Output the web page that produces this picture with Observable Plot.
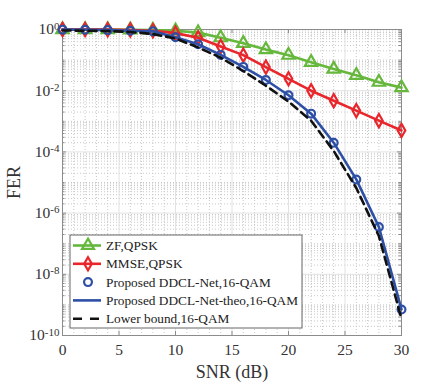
<!DOCTYPE html>
<html><head><meta charset="utf-8">
<script src="https://cdn.jsdelivr.net/npm/d3@7"></script>
<script src="https://cdn.jsdelivr.net/npm/@observablehq/plot@0.6"></script>
<style>
body{margin:0;background:#fff}
#chart{width:443px;height:388px}
</style>
</head><body><div id="chart"></div>
<script>
// ---- data ----
const snr = [0, 2, 4, 6, 8, 10, 12, 14, 16, 18, 20, 22, 24, 26, 28, 30];
const zfQpsk = [1, 1, 0.99, 0.98, 0.955, 0.91, 0.79, 0.54, 0.355, 0.22, 0.145, 0.085, 0.051, 0.032, 0.019, 0.0126];
const mmseQpsk = [1, 0.995, 0.99, 0.965, 0.91, 0.76, 0.54, 0.28, 0.145, 0.059, 0.0245, 0.01, 0.0047, 0.00224, 0.00105, 0.0005];
const ddclSim = [0.99, 0.98, 0.955, 0.91, 0.87, 0.56, 0.33, 0.148, 0.060, 0.0224, 0.0071, 0.00178, 2.0e-4, 1.26e-5, 3.5e-7, 7.1e-10];
const ddclTheo = [0.99, 0.98, 0.955, 0.91, 0.87, 0.56, 0.33, 0.148, 0.060, 0.0224, 0.0071, 0.00178, 2.0e-4, 1.26e-5, 3.5e-7, 7.1e-10];
const lowerBound = [0.93, 0.91, 0.89, 0.83, 0.71, 0.51, 0.26, 0.12, 0.044, 0.0145, 0.0044, 0.00105, 1.07e-4, 6.6e-6, 1.78e-7, 3.5e-10];
const seriesNames = ["ZF,QPSK", "MMSE,QPSK", "Proposed DDCL-Net,16-QAM", "Proposed DDCL-Net-theo,16-QAM", "Lower bound,16-QAM"];
const xTicks = [0, 5, 10, 15, 20, 25, 30];
const yTickExps = [0, -2, -4, -6, -8, -10];

// ---- derived ----
const GREEN = "#66b83c", RED = "#e8262b", BLUE = "#2d4fa6", BLACK = "#111";
const FONT = "'Liberation Serif','Times New Roman',serif";
const W = 443, H = 388, mL = 62, mR = 42, mT = 29, mB = 53;
const innerW = W - mL - mR, innerH = H - mT - mB;
const yMajor = yTickExps.map(e => Math.pow(10, e));
const yMinor = [];
for (let e = -10; e < 0; e++) for (let k = 1; k < 10; k++) {
  if (k === 1 && e % 2 === 0) continue;
  yMinor.push(k * Math.pow(10, e));
}
const xMinor = d3.range(1, 30).filter(d => d % 5 !== 0);
const rows = ys => snr.map((x, i) => ({x, y: ys[i]}));
const axisGrey = "#8c8c8c";

const svg = Plot.plot({
  width: W, height: H,
  marginLeft: mL, marginRight: mR, marginTop: mT, marginBottom: mB,
  style: {fontFamily: FONT, fontSize: "15.5px", color: "#333", background: "#fff"},
  x: {domain: [0, 30]},
  y: {type: "log", domain: [1e-10, 1]},
  marks: [
    Plot.ruleX(xMinor, {stroke: "#c8c8c8", strokeDasharray: "1,2"}),
    Plot.ruleY(yMinor, {stroke: "#c8c8c8", strokeDasharray: "1,2"}),
    Plot.ruleX(xTicks, {stroke: "#e2e2e2"}),
    Plot.ruleY(yMajor, {stroke: "#e2e2e2"}),
    Plot.tickX(xTicks, {x: d => d, stroke: axisGrey, insetTop: innerH - 4}),
    Plot.tickX(xTicks, {x: d => d, stroke: axisGrey, insetBottom: innerH - 4}),
    Plot.tickY(yMajor, {y: d => d, stroke: axisGrey, insetRight: innerW - 4}),
    Plot.tickY(yMajor, {y: d => d, stroke: axisGrey, insetLeft: innerW - 4}),
    Plot.tickY(yMinor, {y: d => d, stroke: axisGrey, insetRight: innerW - 2.5}),
    Plot.tickY(yMinor, {y: d => d, stroke: axisGrey, insetLeft: innerW - 2.5}),
    Plot.frame({stroke: axisGrey}),
    Plot.axisX({ticks: xTicks, tickSize: 0, tickPadding: 8, tickFormat: d => String(d),
      label: "SNR (dB)", labelAnchor: "center", labelOffset: 42, labelArrow: "none"}),
    Plot.axisY({ticks: yMajor, tickSize: 0, tickPadding: 3,
      tickFormat: d => "10|" + Math.round(Math.log10(d)),
      label: "FER", labelAnchor: "center", labelOffset: 55, labelArrow: "none"}),
    Plot.line(rows(zfQpsk), {x: "x", y: "y", stroke: GREEN, strokeWidth: 2.6}),
    Plot.dot(rows(zfQpsk), {x: "x", y: "y", symbol: "triangle", r: 4.6, stroke: GREEN, strokeWidth: 2.2, fill: "none"}),
    Plot.line(rows(mmseQpsk), {x: "x", y: "y", stroke: RED, strokeWidth: 2.6}),
    Plot.dot(rows(mmseQpsk), {x: "x", y: "y", symbol: "diamond", r: 4.0, stroke: RED, strokeWidth: 2.2, fill: "none"}),
    Plot.dot(rows(ddclSim), {x: "x", y: "y", symbol: "circle", r: 3.9, stroke: BLUE, strokeWidth: 2.2, fill: "none"}),
    Plot.line(rows(ddclTheo), {x: "x", y: "y", stroke: BLUE, strokeWidth: 2.6}),
    Plot.line(rows(lowerBound), {x: "x", y: "y", stroke: BLACK, strokeWidth: 2.6, strokeDasharray: "8,5"})
  ]
});

// superscript exponents on the y tick labels
d3.select(svg).selectAll('[aria-label="y-axis tick label"] text').each(function () {
  const t = d3.select(this);
  const parts = t.text().split("|");
  t.text(null);
  t.append("tspan").text(parts[0]);
  t.append("tspan").attr("dy", "-0.45em").attr("font-size", "11px").text(parts[1]);
});
// larger axis titles
d3.select(svg).selectAll('[aria-label="x-axis label"] text, [aria-label="y-axis label"] text')
  .attr("font-size", "18px");

// legend inside the axes (lower left)
const lg = d3.select(svg).append("g").attr("font-family", FONT).attr("font-size", "13.3px").attr("text-anchor", "start");
const lx = 70, ly = 235, lw = 232, lh = 93, rowH = 18.3;
lg.append("rect").attr("x", lx).attr("y", ly).attr("width", lw).attr("height", lh).attr("fill", "#fff").attr("stroke", "#666").attr("stroke-width", 1);
const styles = [
  {c: GREEN, line: true, dash: null, sym: d3.symbolTriangle, size: 62},
  {c: RED, line: true, dash: null, sym: d3.symbolDiamond, size: 50},
  {c: BLUE, line: false, dash: null, sym: d3.symbolCircle, size: 48},
  {c: BLUE, line: true, dash: null, sym: null},
  {c: BLACK, line: true, dash: "9,8", sym: null}
];
seriesNames.forEach((name, i) => {
  const cy = ly + 10.5 + i * rowH, s = styles[i];
  if (s.line) lg.append("line").attr("x1", lx + 3).attr("x2", lx + 31).attr("y1", cy).attr("y2", cy)
    .attr("stroke", s.c).attr("stroke-width", 2.6).attr("stroke-dasharray", s.dash);
  if (s.sym) lg.append("path").attr("transform", `translate(${lx + 18},${cy})`)
    .attr("d", d3.symbol(s.sym, s.size)()).attr("fill", "none").attr("stroke", s.c).attr("stroke-width", 2.2);
  lg.append("text").attr("x", lx + 36).attr("y", cy).attr("dy", "0.34em").attr("fill", "#222").text(name);
});

document.getElementById("chart").appendChild(svg);
</script>
</body></html>
